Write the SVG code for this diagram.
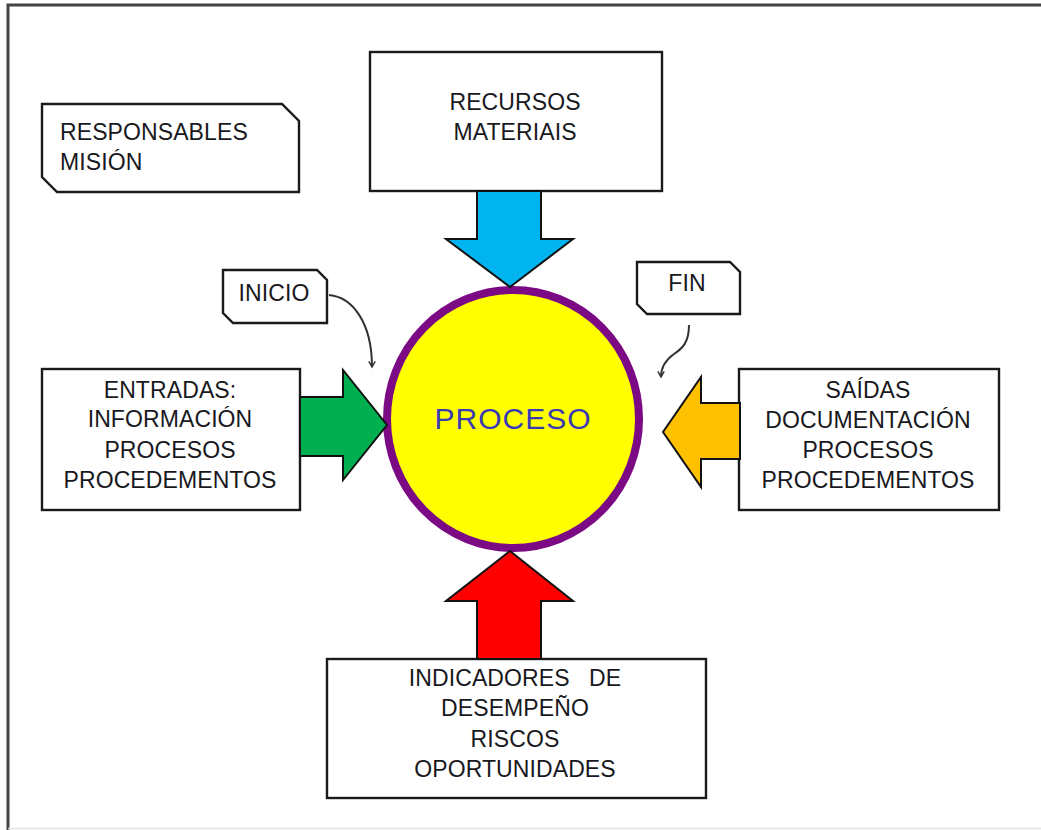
<svg xmlns="http://www.w3.org/2000/svg" width="1041" height="830" viewBox="0 0 1041 830">
<defs>
<style>
.box{fill:#fff;stroke:#1a1a1a;stroke-width:2.4}
.t{font-family:"Liberation Sans",Arial,sans-serif;font-size:23px;fill:#181820;letter-spacing:0.1px}
.c{text-anchor:middle}
.arr{stroke:#111;stroke-width:2;stroke-linejoin:miter}
.con{fill:none;stroke:#333;stroke-width:2}
</style>
<marker id="open" viewBox="0 0 10 10" refX="8" refY="5" markerWidth="8" markerHeight="8" orient="auto" markerUnits="userSpaceOnUse">
<path d="M1,1 L8,5 L1,9" fill="none" stroke="#333" stroke-width="1.8"/>
</marker>
</defs>
<rect x="0" y="0" width="1041" height="830" fill="#fff"/>
<path d="M8,830 L8,5 L1045,5" fill="none" stroke="#444" stroke-width="3"/>
<line x1="8" y1="828.5" x2="1041" y2="828.5" stroke="#e4e4e4" stroke-width="1.5"/>

<g id="responsables">
<path class="box" d="M42,104 L282,104 L299,121 L299,192 L57,192 L42,177 Z"/>
<text class="t" x="60" y="140">RESPONSABLES</text>
<text class="t" x="60" y="170">MISIÓN</text>
</g>

<g id="recursos">
<rect class="box" x="370" y="52" width="292" height="139"/>
<text class="t c" x="515" y="110">RECURSOS</text>
<text class="t c" x="515" y="140">MATERIAIS</text>
</g>

<g id="proceso">
<ellipse cx="513" cy="419" rx="126" ry="129" fill="#ffff00" stroke="#7c0a84" stroke-width="8"/>
<text x="513" y="429" text-anchor="middle" font-family="'Liberation Sans',Arial,sans-serif" font-size="30" letter-spacing="1" fill="#3a3ab4">PROCESO</text>
</g>

<g id="entradas">
<rect class="box" x="42" y="369" width="258" height="141"/>
<text class="t c" x="170" y="398">ENTRADAS:</text>
<text class="t c" x="170" y="427">INFORMACIÓN</text>
<text class="t c" x="170" y="458">PROCESOS</text>
<text class="t c" x="170" y="488">PROCEDEMENTOS</text>
</g>

<g id="saidas">
<rect class="box" x="739" y="369" width="260" height="141"/>
<text class="t c" x="868" y="398">SAÍDAS</text>
<text class="t c" x="868" y="428">DOCUMENTACIÓN</text>
<text class="t c" x="868" y="458">PROCESOS</text>
<text class="t c" x="868" y="488">PROCEDEMENTOS</text>
</g>

<g id="indicadores">
<rect class="box" x="327" y="659" width="379" height="139"/>
<text class="t c" x="515" y="686" xml:space="preserve">INDICADORES   DE</text>
<text class="t c" x="515" y="716">DESEMPEÑO</text>
<text class="t c" x="515" y="747">RISCOS</text>
<text class="t c" x="515" y="777">OPORTUNIDADES</text>
</g>

<g id="inicio">
<path class="box" d="M223,270 L317,270 L327,280 L327,323 L233,323 L223,313 Z"/>
<text class="t c" x="274" y="301" font-size="19">INICIO</text>
</g>

<g id="fin">
<path class="box" d="M637,262 L730,262 L740,272 L740,314 L647,314 L637,304 Z"/>
<text class="t c" x="687" y="291" font-size="19">FIN</text>
</g>

<g id="connectors">
<path class="arr" fill="#00b4f0" d="M477,191 L541,191 L541,239 L573,239 L510,287 L446,239 L477,239 Z"/>
<path class="arr" fill="#00b050" d="M300,397 L343,397 L343,370 L387,425 L343,480 L343,456 L300,456 Z"/>
<path class="arr" fill="#ffc000" d="M740,403 L701,403 L701,377 L663,432 L701,487 L701,459 L740,459 Z"/>
<path class="arr" fill="#ff0000" d="M477,659 L541,659 L541,601 L573,601 L510,551 L446,601 L477,601 Z"/>
<path class="con" marker-end="url(#open)" d="M329,295 C352,297 372,322 372,367"/>
<path class="con" marker-end="url(#open)" d="M689,325 C689,342 683,348 674,354 C664,361 661,368 661,377"/>
</g>
</svg>
